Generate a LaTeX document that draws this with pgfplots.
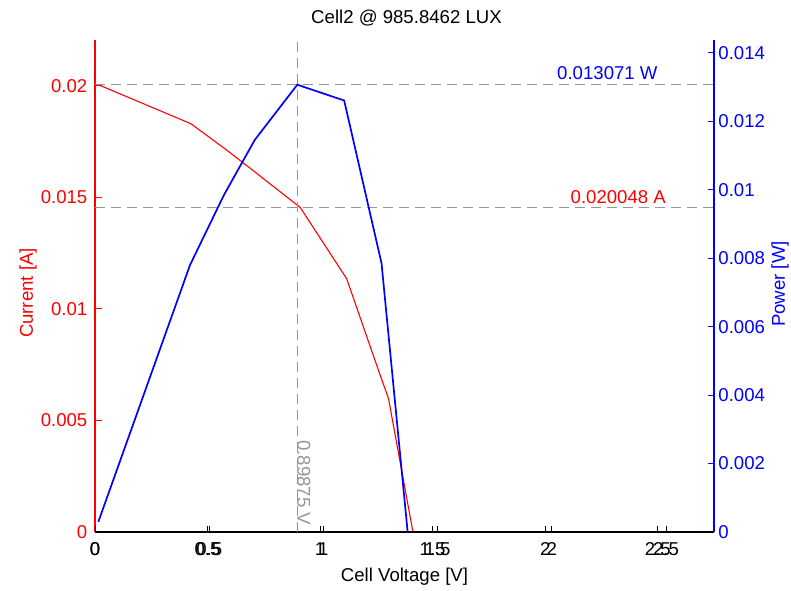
\documentclass[border=0pt]{standalone}
\usepackage{pgfplots}
\pgfplotsset{compat=1.18}
\usepackage{fontspec}
\setmainfont{Liberation Sans}

\definecolor{refgray}{RGB}{150,150,150}
\newcommand{\chartfont}{\fontsize{18.6}{22}\selectfont}

% Measured I-V points of the cell (voltage in V, current in A)
\pgfplotstableread{
V       I
0.015   0.020048
0.42    0.0183
0.57    0.01717
0.70    0.01614
0.89875 0.014544
1.102   0.01135
1.241   0.00725
1.285   0.00598
1.392   0.0
}\currenttable

% Power curve (voltage in V, power in W)
\pgfplotstableread{
V       P
0.015   0.0003
0.422   0.0078
0.573   0.00985
0.71    0.01146
0.89875 0.013071
1.107   0.01261
1.273   0.00785
1.389   0.0
}\powertable

\pgfplotsset{
  cellaxis/.style={
    scale only axis, width=619pt, height=492pt,
    at={(0,0)}, anchor=south west,
    xmin=0, ymin=0,
    axis x line*=bottom,
    x axis line style={-, black, line width=1.2pt},
    xtick={0,0.5,1,1.5,2,2.5},
    xtick style={black, line width=1pt},
    tick align=inside,
    major tick length=6.5pt,
    scaled ticks=false,
    /pgf/number format/assume math mode=true,
    /pgf/number format/fixed,
    /pgf/number format/precision=3,
    tick label style={font=\chartfont},
    xticklabel style={yshift=-4pt},
    label style={font=\chartfont},
  },
  refline/.style={refgray, line width=1.4pt, dash pattern=on 10pt off 6pt},
}

\begin{document}
\chartfont
\begin{tikzpicture}[x=1pt,y=1pt]
\useasboundingbox (-95,-58) rectangle (696,532);

% Current on the left axis
\begin{axis}[cellaxis,
  xmax=2.71, ymax=0.0220528,
  axis y line*=left,
  y axis line style={-, red, line width=1.2pt},
  ytick={0,0.005,0.01,0.015,0.02},
  ytick style={red, line width=1pt},
  yticklabel style={red, xshift=-1.3pt},
  ylabel={Current [A]},
  every axis y label/.style={at={([xshift=-67pt,yshift=-7pt]axis description cs:0,0.5)}, anchor=center, rotate=90, red},
  xlabel={Cell Voltage [V]},
  every axis x label/.style={at={([yshift=-45pt]axis description cs:0.5,0)}, anchor=center},
]
\addplot[refline] coordinates {(0,0.014544) (2.71,0.014544)};
\addplot[red, line width=1.1pt] table[x=V, y=I] {\currenttable};
\node[red, anchor=base east, yshift=4pt, inner sep=0pt] at (axis cs:2.5,0.014544) {0.020048 A};
\end{axis}

% Power on the right axis
\begin{axis}[cellaxis,
  xmax=2.75, ymax=0.0143781,
  axis y line*=right,
  y axis line style={-, blue, line width=1.2pt},
  ytick={0,0.002,0.004,0.006,0.008,0.01,0.012,0.014},
  ytick style={blue, line width=1pt},
  yticklabel style={blue, xshift=-2pt},
  ylabel={Power [W]},
  every axis y label/.style={at={([xshift=66pt,yshift=2pt]axis description cs:1,0.5)}, anchor=center, rotate=90, blue},
  title={Cell2 @ 985.8462 LUX},
  every axis title/.style={at={([yshift=22pt,xshift=2pt]axis description cs:0.5,1)}, anchor=center},
]
\addplot[refline] coordinates {(0,0.013071) (2.75,0.013071)};
\addplot[refline] coordinates {(0.89875,0) (0.89875,0.0143781)};
\addplot[blue, line width=1.7pt] table[x=V, y=P] {\powertable};
\node[blue, anchor=base east, yshift=5pt, inner sep=0pt] at (axis cs:2.5,0.013071) {0.013071 W};
\node[refgray, anchor=base west, rotate=-90, xshift=3pt, inner sep=0pt] at (axis cs:0.89875,0.002776) {0.89875 V};
\end{axis}
\end{tikzpicture}
\end{document}
